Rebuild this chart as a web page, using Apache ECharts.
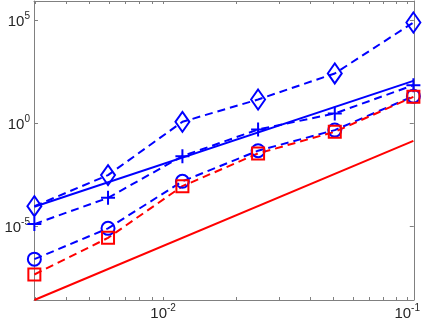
<!DOCTYPE html>
<html>
<head>
    <meta charset="utf-8">
    <script src="https://cdn.jsdelivr.net/npm/echarts@6/dist/echarts.min.js"></script>
    <style>
        body { margin: 0; padding: 0; background: #fff; overflow: hidden; }
        #chart { width: 423px; height: 321px; }
    </style>
</head>
<body>
    <div id="chart"></div>
    <script>
        // step sizes and errors
        const hVals = [0.00297, 0.00595, 0.0120, 0.0245, 0.0505, 0.106];
        const diamondErr = [9.3e-5, 3.0e-3, 1.16, 14.1, 258, 7.7e4];
        const plusErr = [1.26e-5, 2.36e-4, 0.025, 0.49, 2.95, 69.8];
        const circleErr = [2.5e-7, 7.8e-6, 1.5e-3, 0.046, 0.46, 20.4];
        const squareErr = [4.5e-8, 2.7e-6, 8.7e-4, 0.034, 0.38, 19];

        // reference slopes (two end points each)
        const refH = [0.00297, 0.106];
        const blueRef = [8.7e-5, 113];
        const redRef = [2.6e-9, 0.138];

        // axis limits and ticks
        const xLimits = [0.00296, 0.1064];
        const yLimits = [2.6e-9, 8.5e5];
        const xTicks = [0.003, 0.004, 0.005, 0.006, 0.007, 0.008, 0.009, 0.01,
            0.02, 0.03, 0.04, 0.05, 0.06, 0.07, 0.08, 0.09, 0.1];
        const xLabels = [0.01, 0.1];
        const yTicks = [1e-5, 1, 1e5];

        const lg = Math.log10;
        const pts = (xs, ys) => xs.map((x, i) => [lg(x), lg(ys[i])]);

        const chart = echarts.init(document.getElementById('chart'));

        const axisColor = '#808080';
        const richLabel = {
            b: { fontSize: 15, fontFamily: 'Liberation Sans', color: '#262626', verticalAlign: 'bottom', lineHeight: 18 },
            e: { fontSize: 10, fontFamily: 'Liberation Sans', color: '#262626', verticalAlign: 'top', lineHeight: 18 }
        };
        const powLabel = v => '{b|10}{e|' + Math.round(v) + '}';

        function xAxisDef(pos, showLabel) {
            return {
                type: 'value',
                position: pos,
                min: lg(xLimits[0]),
                max: lg(xLimits[1]),
                axisLine: { show: true, onZero: false, lineStyle: { color: axisColor, width: 1 } },
                axisTick: {
                    show: true, inside: true, length: 3,
                    customValues: xTicks.map(lg),
                    lineStyle: { color: axisColor }
                },
                axisLabel: {
                    show: showLabel, margin: 3,
                    customValues: xLabels.map(lg),
                    formatter: powLabel, rich: richLabel
                },
                splitLine: { show: false }
            };
        }

        function yAxisDef(pos, showLabel) {
            return {
                type: 'value',
                position: pos,
                min: lg(yLimits[0]),
                max: lg(yLimits[1]),
                axisLine: { show: true, onZero: false, lineStyle: { color: axisColor, width: 1 } },
                axisTick: {
                    show: true, inside: true, length: 4,
                    customValues: yTicks.map(lg),
                    lineStyle: { color: axisColor }
                },
                axisLabel: {
                    show: showLabel, margin: 4,
                    customValues: yTicks.map(lg),
                    formatter: powLabel, rich: richLabel
                },
                splitLine: { show: false }
            };
        }

        function errSeries(data, color, symbol, size) {
            return {
                type: 'line',
                data: data,
                symbol: symbol,
                symbolSize: size,
                lineStyle: { color: color, width: 2, type: [8, 5] },
                itemStyle: { color: 'rgba(0,0,0,0)', borderColor: color, borderWidth: 2 },
                z: 3
            };
        }

        function refSeries(data, color) {
            return {
                type: 'line',
                data: data,
                showSymbol: false,
                symbol: 'none',
                lineStyle: { color: color, width: 2 },
                z: 2
            };
        }

        chart.setOption({
            animation: false,
            backgroundColor: '#fff',
            grid: { left: 34, right: 9, top: 1, bottom: 21 },
            xAxis: [xAxisDef('bottom', true), xAxisDef('top', false)],
            yAxis: [yAxisDef('left', true), yAxisDef('right', false)],
            series: [
                refSeries(pts(refH, blueRef), '#0000ff'),
                refSeries(pts(refH, redRef), '#ff0000'),
                errSeries(pts(hVals, diamondErr), '#0000ff', 'diamond', [14, 20]),
                errSeries(pts(hVals, plusErr), '#0000ff', 'path://M5,0 L5,10 M0,5 L10,5', 14),
                errSeries(pts(hVals, circleErr), '#0000ff', 'circle', 13),
                errSeries(pts(hVals, squareErr), '#ff0000', 'rect', 12)
            ]
        });
    </script>
</body>
</html>
